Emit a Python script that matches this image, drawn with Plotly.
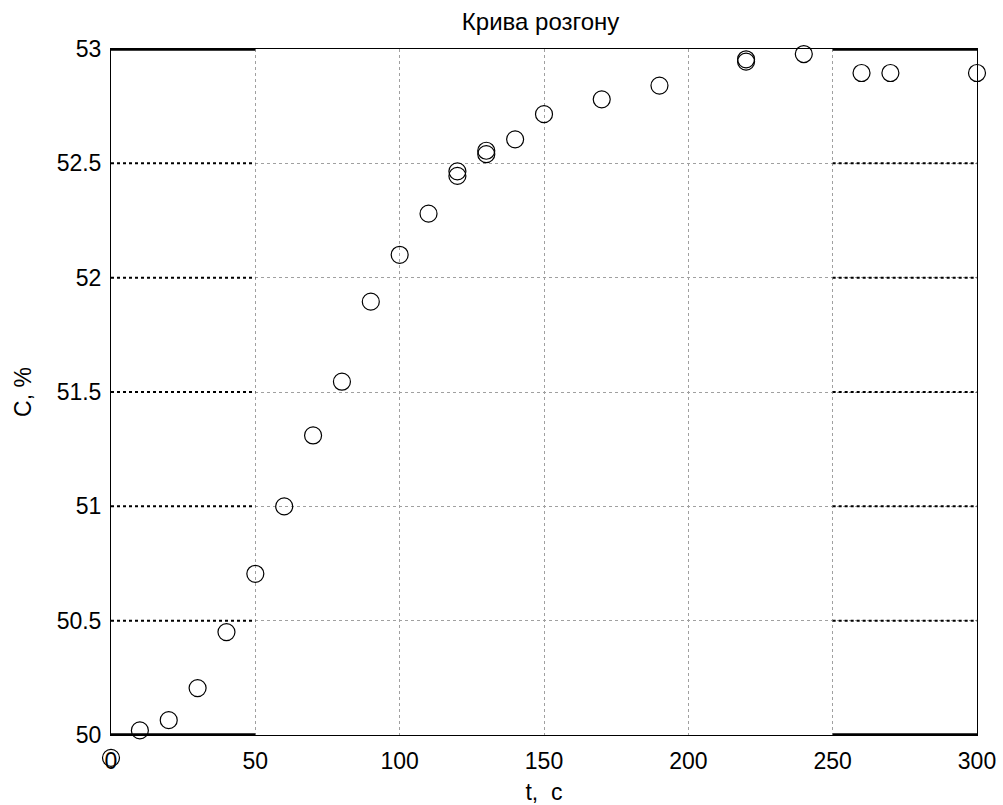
import plotly.graph_objects as go

t_vals = [0, 10, 20, 30, 40, 50, 60, 70, 80, 90, 100, 110, 120, 120, 130, 130,
          140, 150, 170, 190, 220, 220, 240, 260, 270, 300]
c_vals = [49.9, 50.02, 50.065, 50.205, 50.45, 50.705, 51.0, 51.31, 51.545, 51.895,
          52.1, 52.28, 52.445, 52.465, 52.54, 52.555, 52.605, 52.715, 52.78, 52.84,
          52.945, 52.955, 52.978, 52.895, 52.895, 52.895]
x_ticks = [0, 50, 100, 150, 200, 250, 300]
y_ticks = [50, 50.5, 51, 51.5, 52, 52.5, 53]
y_tick_text = ["50", "50.5", "51", "51.5", "52", "52.5", "53"]
title_text = "Крива розгону"
x_title = "t,  c"
y_title = "C, %"

font = "Liberation Sans, Arial, sans-serif"
x_min, x_max = x_ticks[0], x_ticks[-1]
y_min, y_max = y_ticks[0], y_ticks[-1]

W, H = 1003, 805
m_l, m_r, m_t, m_b = 111, 26, 49, 20
plot_bottom_px = 735                       # bottom of the axes box
paper_h = H - m_t - m_b
d0 = (H - m_b - plot_bottom_px) / paper_h  # main y-axis domain start
# an overlaid, invisible axis that spans the whole paper with the same px/unit scale,
# so that a point below the axes box (drawn unclipped, as MATLAB did) is still placed by the scale
y2_lo = y_max - (y_max - y_min) / (1 - d0)

inside = [(t, c) for t, c in zip(t_vals, c_vals) if c >= y_min]
outside = [(t, c) for t, c in zip(t_vals, c_vals) if c < y_min]

marker = dict(symbol="circle-open", size=17, color="black", line=dict(width=1.2, color="black"))

fig = go.Figure()
fig.add_trace(go.Scatter(x=[p[0] for p in inside], y=[p[1] for p in inside], mode="markers",
                         cliponaxis=False, marker=marker, showlegend=False))
fig.add_trace(go.Scatter(x=[p[0] for p in outside], y=[p[1] for p in outside], mode="markers",
                         cliponaxis=False, marker=marker, showlegend=False,
                         xaxis="x2", yaxis="y2"))

# MATLAB-style artifacts: black dotted horizontal grid in the outer segments, thick top/bottom frame
side_segments = [(x_ticks[0], x_ticks[1]), (x_ticks[-2], x_ticks[-1])]
shapes = []
for (a, b) in side_segments:
    for yv in y_ticks[1:-1]:
        shapes.append(dict(type="line", xref="x", yref="y", x0=a, x1=b, y0=yv, y1=yv,
                           line=dict(color="black", width=2, dash="dot"), layer="between"))
    for yv in (y_min, y_max):
        shapes.append(dict(type="line", xref="x", yref="y", x0=a, x1=b, y0=yv, y1=yv,
                           line=dict(color="black", width=3.5), layer="above"))

hidden = dict(visible=False, showgrid=False, zeroline=False, showline=False, automargin=False)

fig.update_layout(
    width=W, height=H,
    margin=dict(l=m_l, r=m_r, t=m_t, b=m_b),
    paper_bgcolor="white", plot_bgcolor="rgba(0,0,0,0)",
    font=dict(family=font, size=23, color="black"),
    title=dict(text=title_text, x=0.539, xanchor="center", y=0.973, yanchor="middle",
               font=dict(size=24, family=font, color="black")),
    shapes=shapes,
    xaxis=dict(range=[x_min, x_max], tickvals=x_ticks, ticks="", showline=True, linecolor="black",
               linewidth=1, mirror=True, showgrid=True, gridcolor="#a0a0a0", griddash="dot",
               gridwidth=1, zeroline=False, tickfont=dict(size=23), automargin=False,
               ticklabelstandoff=5, anchor="y",
               title=dict(text=x_title, font=dict(size=23), standoff=12)),
    yaxis=dict(range=[y_min, y_max], domain=[d0, 1], tickvals=y_ticks, ticktext=y_tick_text,
               ticks="", showline=True, linecolor="black", linewidth=1, mirror=True,
               showgrid=True, gridcolor="#a0a0a0", griddash="dot", gridwidth=1, zeroline=False,
               tickfont=dict(size=23), ticklabelstandoff=4, automargin=False, anchor="x",
               title=dict(text=y_title, font=dict(size=23), standoff=18)),
    xaxis2=dict(range=[x_min, x_max], domain=[0, 1], anchor="y2", overlaying="x", **hidden),
    yaxis2=dict(range=[y2_lo, y_max], domain=[0, 1], anchor="x2", **hidden),
)

fig.write_html("out.html")
